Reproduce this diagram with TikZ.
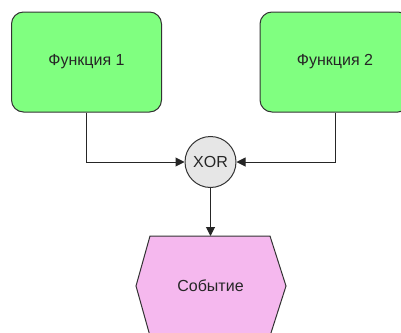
\documentclass[tikz,border=0pt]{standalone}
\usepackage{fontspec}
\setmainfont{Liberation Sans}
\usetikzlibrary{arrows.meta}
\definecolor{fgreen}{HTML}{80FF80}
\definecolor{epink}{HTML}{F5B8EE}
\definecolor{xgray}{HTML}{E6E6E6}
\definecolor{tcol}{HTML}{262626}
\begin{document}
\begin{tikzpicture}[x=1pt,y=-1pt,
  txt/.style={font=\fontsize{16}{18}\selectfont,text=tcol},
  func/.style={txt,draw=black!80,line width=1pt,fill=fgreen,rounded corners=12pt,minimum width=150pt,minimum height=100pt,inner sep=0pt},
  conn/.style={draw=black!85,line width=1pt,-{Triangle[length=9pt,width=9pt]}}]
\useasboundingbox (0,0) rectangle (401,332);
\clip (0,0) rectangle (401,332);
\node[func] (f1) at (86.5,62) {Функция 1};
\node[func] (f2) at (335,62) {Функция 2};
\node[txt,draw=black!80,line width=1pt,fill=xgray,circle,minimum size=51pt,inner sep=0pt] (x) at (210.5,162) {XOR};
\path[draw=black!80,line width=1pt,fill=epink] (150,236) -- (270,236) -- (286,286) -- (270,336) -- (150,336) -- (136,286) -- cycle;
\coordinate (evtop) at (210.5,236);
\node[txt] (ev) at (210.5,286) {Событие};
\draw[conn] (f1.south) |- (x.west);
\draw[conn] (f2.south) |- (x.east);
\draw[conn] (x.south) -- (evtop);
\end{tikzpicture}
\end{document}
